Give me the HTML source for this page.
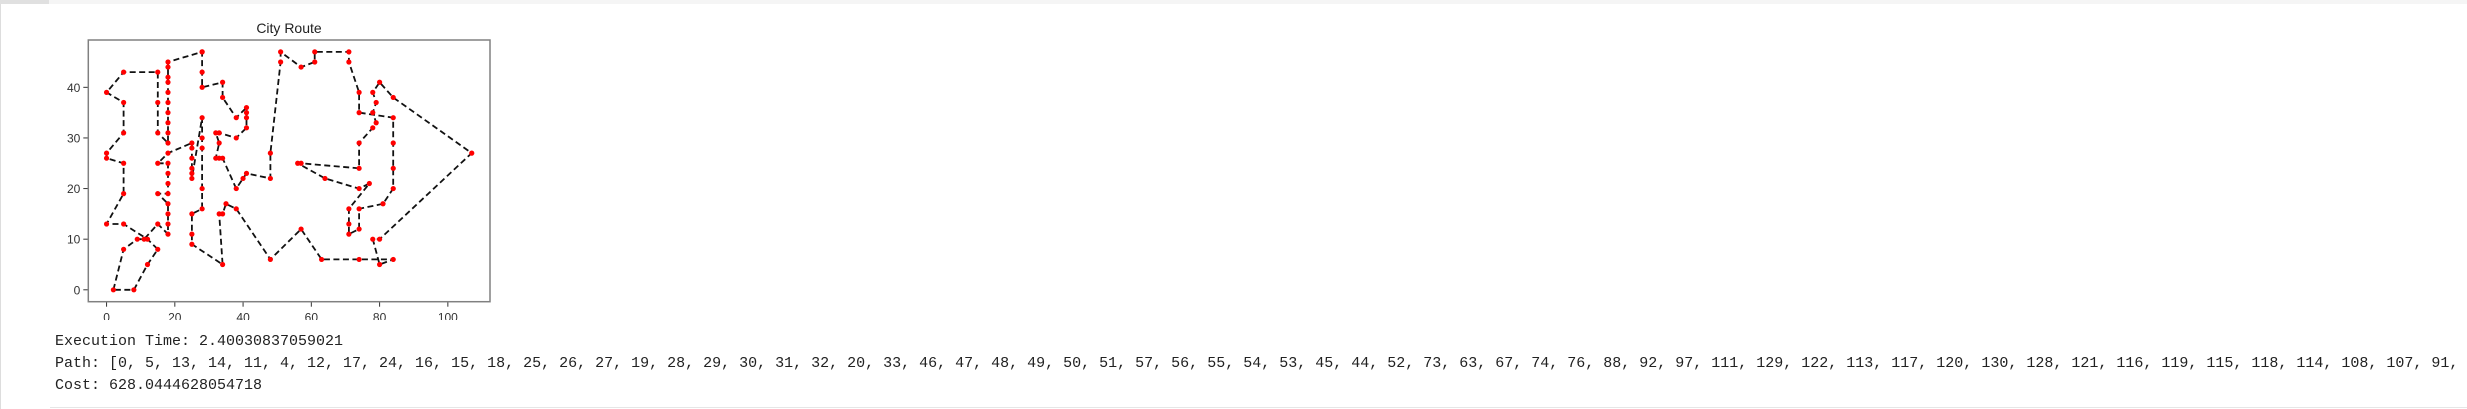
<!DOCTYPE html>
<html><head><meta charset="utf-8">
<style>
html,body{margin:0;padding:0;background:#fff;width:2467px;height:409px;overflow:hidden;}
#wrap{position:relative;width:2467px;height:409px;}
.topbar{position:absolute;left:0;top:0;width:2467px;height:4px;background:#f5f5f5;}
.topbar-tab{position:absolute;left:0;top:0;width:49px;height:4px;background:#e0e0e0;}
.leftline{position:absolute;left:0;top:4px;width:1px;height:405px;background:#ddd;}
.out{position:absolute;left:55px;font-family:"Liberation Mono","NanumGothic",monospace;font-size:15px;color:#222;white-space:pre;line-height:22px;}
.bottomline{position:absolute;left:50px;top:407px;width:2417px;height:1px;background:#e6e6e6;}
</style></head>
<body>
<div id="wrap">
<div class="topbar"><div class="topbar-tab"></div></div>
<div class="leftline"></div>
<svg id="chart" width="2467" height="320" style="position:absolute;left:0;top:0" font-family="Liberation Sans, DejaVu Sans, sans-serif">
<text x="289" y="33" font-size="14" text-anchor="middle" fill="#222">City Route</text>
<g id="xticks"></g>
<g id="yticks"></g>
<g id="route"></g>
<g id="dots"></g>
<rect x="88.3" y="40" width="401.7" height="261.7" fill="none" stroke="#808080" stroke-width="1.5"/>
</svg>
<div class="out" style="top:331px">Execution Time: 2.40030837059021</div>
<div class="out" style="top:353px">Path: [0, 5, 13, 14, 11, 4, 12, 17, 24, 16, 15, 18, 25, 26, 27, 19, 28, 29, 30, 31, 32, 20, 33, 46, 47, 48, 49, 50, 51, 57, 56, 55, 54, 53, 45, 44, 52, 73, 63, 67, 74, 76, 88, 92, 97, 111, 129, 122, 113, 117, 120, 130, 128, 121, 116, 119, 115, 118, 114, 108, 107, 91, </div>
<div class="out" style="top:375px">Cost: 628.0444628054718</div>
<div class="bottomline"></div>
</div>
<script>
const routeX = [2,5,9,11,15,18,18,18,18,15,18,18,18,18,15,18,25,25,25,25,25,25,28,28,28,28,28,25,25,25,34,33,34,35,38,48,57,63,74,84,80,78,80,107,84,80,78,79,78,79,78,74,74,57,56,64,74,77,71,71,71,74,74,81,84,84,84,84,74,74,71,71,61,61,57,51,51,48,48,41,40,38,34,33,32,33,32,33,38,41,41,41,41,38,34,34,28,28,28,28,18,18,18,18,18,18,18,18,18,18,15,15,15,5,0,5,5,0,0,5,5,0,5,12,15,12,8];
const routeY = [0,8,10,10,13,11,13,15,17,19,19,21,23,25,25,27,29,28,26,24,23,22,34,30,28,20,16,15,11,9,5,15,15,17,16,6,12,6,6,6,5,10,10,27,38,41,39,37,35,33,32,29,24,25,25,22,20,21,16,13,11,12,16,17,20,24,29,34,35,39,45,47,47,45,44,47,45,27,22,23,22,20,26,26,26,29,31,31,30,32,34,35,36,34,38,41,40,43,47,47,45,44,42,41,39,37,35,33,31,29,31,37,43,43,39,37,31,27,26,25,19,13,13,10,8,5,0];
const xTicks = [0,20,40,60,80,100];
const yTicks = [0,10,20,30,40];
const xMin=-5.35, xMax=112.35, yMin=-2.35, yMax=49.35;
const L=88.3, R=490, T=40, B=301.7;
function sx(v){return L+(v-xMin)/(xMax-xMin)*(R-L);}
function sy(v){return B-(v-yMin)/(yMax-yMin)*(B-T);}
const NS="http://www.w3.org/2000/svg";
const xg=document.getElementById('xticks'), yg=document.getElementById('yticks');
xTicks.forEach(t=>{
  const ln=document.createElementNS(NS,'line');
  ln.setAttribute('x1',sx(t));ln.setAttribute('x2',sx(t));ln.setAttribute('y1',B);ln.setAttribute('y2',B+5);
  ln.setAttribute('stroke','#333');ln.setAttribute('stroke-width','1');
  
  
  xg.appendChild(ln);
  const tx=document.createElementNS(NS,'text');
  tx.setAttribute('x',sx(t));tx.setAttribute('y',B+20);tx.setAttribute('text-anchor','middle');
  tx.setAttribute('font-size','12');tx.setAttribute('fill','#333');tx.textContent=t;
  
  
  xg.appendChild(tx);
});
yTicks.forEach(t=>{
  const ln=document.createElementNS(NS,'line');
  ln.setAttribute('x1',L-5);ln.setAttribute('x2',L);ln.setAttribute('y1',sy(t));ln.setAttribute('y2',sy(t));
  ln.setAttribute('stroke','#333');ln.setAttribute('stroke-width','1');
  
  
  yg.appendChild(ln);
  const tx=document.createElementNS(NS,'text');
  tx.setAttribute('x',L-8);tx.setAttribute('y',sy(t)+4.5);tx.setAttribute('text-anchor','end');
  tx.setAttribute('font-size','12');tx.setAttribute('fill','#333');tx.textContent=t;
  
  
  yg.appendChild(tx);
});
const dg=document.getElementById('dots');
for(let i=0;i<routeX.length;i++){
  const c=document.createElementNS(NS,'circle');
  c.setAttribute('cx',sx(routeX[i]));c.setAttribute('cy',sy(routeY[i]));c.setAttribute('r','2.6');
  c.setAttribute('fill','#ff0000');
  
  
  dg.appendChild(c);
}
const pts=routeX.map((x,i)=>sx(x).toFixed(1)+','+sy(routeY[i]).toFixed(1));
pts.push(pts[0]);
const pl=document.createElementNS(NS,'polyline');
pl.setAttribute('points',pts.join(' '));
pl.setAttribute('fill','none');pl.setAttribute('stroke','#111');pl.setAttribute('stroke-width','1.8');
pl.setAttribute('stroke-dasharray','6,3.5');


document.getElementById('route').appendChild(pl);
</script>
</body></html>
